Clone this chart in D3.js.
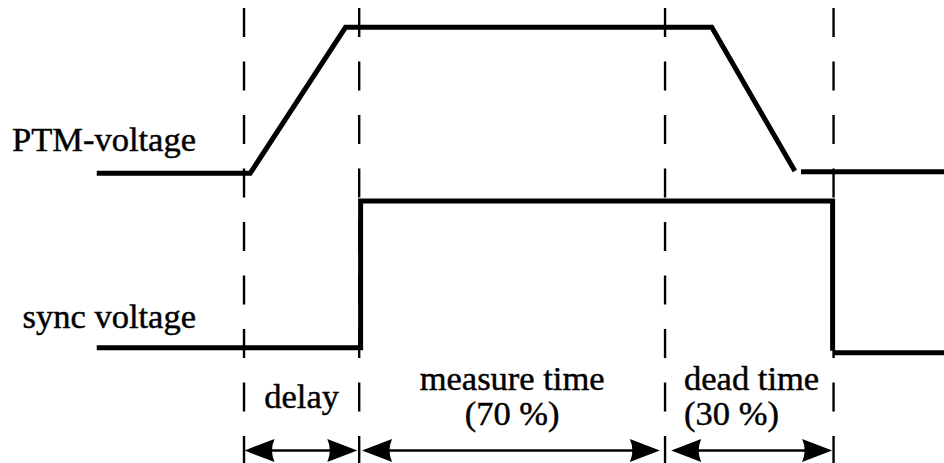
<!DOCTYPE html>
<html>
<head>
<meta charset="utf-8">
<script src="https://cdn.jsdelivr.net/npm/d3@7"></script>
<style>
  body { margin: 0; background: #fff; }
  svg text { font-family: "Liberation Serif", "Times New Roman", serif; fill: #000; stroke: #000; stroke-width: 0.45px; }
</style>
</head>
<body>
<svg id="diagram"></svg>
<script>
const ctx = {
  width: 944,
  height: 463,
  fontSize: 34.5
};

// time axis in "units" (0..100 across the picture)
const markerTimes = [25.85, 38.05, 70.45, 88.3];

// PTM-voltage: [time, level]
const ptmTrace = [[10.25, 0], [26.5, 0], [36.6, 1], [75.4, 1], [84.2, 0.015]];
const ptmTail = [[84.85, 0.01], [100, 0.01]];

// sync voltage: [time, level]
const syncTrace = [[10.25, 0], [38.2, 0], [38.2, 1], [88.2, 1], [88.2, -0.02]];
const syncTail = [[88.3, -0.035], [100, -0.035]];

// interval arrows below the traces
const intervals = [
  { from: 25.9, to: 37.85 },
  { from: 38.35, to: 69.9 },
  { from: 71.1, to: 88.15 }
];

const signalLabels = [
  { text: "PTM-voltage", row: "ptm" },
  { text: "sync voltage", row: "sync" }
];

const intervalLabels = [
  { lines: ["delay"], a: 0, b: 1, anchor: "middle" },
  { lines: ["measure time", "(70 %)"], a: 1, b: 2, anchor: "middle" },
  { lines: ["dead time", "(30 %)"], a: 2, b: 3, anchor: "start" }
];

function drawDiagram() {
  const svg = d3.select("#diagram")
    .attr("width", ctx.width)
    .attr("height", ctx.height);

  const x = d3.scaleLinear().domain([0, 100]).range([0, ctx.width]);
  const yPtm = d3.scaleLinear().domain([0, 1]).range([173.3, 27.3]);
  const ySync = d3.scaleLinear().domain([0, 1]).range([347.7, 201]);

  // dashed markers
  svg.selectAll("line.marker")
    .data(markerTimes)
    .enter()
    .append("line")
      .attr("class", "marker")
      .attr("x1", d => x(d))
      .attr("x2", d => x(d))
      .attr("y1", 8)
      .attr("y2", ctx.height)
      .attr("stroke", "#000")
      .attr("stroke-width", 2.4)
      .attr("stroke-dasharray", "29,24.5");

  const ptmLine = d3.line().x(d => x(d[0])).y(d => yPtm(d[1]));
  const syncLine = d3.line().x(d => x(d[0])).y(d => ySync(d[1]));

  [[ptmTrace, ptmLine], [ptmTail, ptmLine], [syncTrace, syncLine], [syncTail, syncLine]]
    .forEach(([pts, gen]) => {
      svg.append("path")
        .attr("d", gen(pts))
        .attr("fill", "none")
        .attr("stroke", "#000")
        .attr("stroke-width", 5)
        .attr("stroke-linejoin", "miter");
    });

  // signal names, right aligned
  svg.selectAll("text.signal")
    .data(signalLabels)
    .enter()
    .append("text")
      .attr("class", "signal")
      .attr("x", 196)
      .attr("y", d => d.row === "ptm" ? yPtm(0) - 22.5 : ySync(0) - 19.5)
      .attr("text-anchor", "end")
      .style("font-size", ctx.fontSize + "px")
      .text(d => d.text);

  // interval labels
  intervalLabels.forEach((lab, i) => {
    const xa = x(markerTimes[lab.a]), xb = x(markerTimes[lab.b]);
    const tx = lab.anchor === "middle" ? (xa + xb) / 2 : xa + 19;
    const y0 = lab.lines.length === 1 ? 408 : 389.5;
    lab.lines.forEach((ln, j) => {
      svg.append("text")
        .attr("x", tx)
        .attr("y", y0 + j * 35)
        .attr("text-anchor", lab.anchor)
        .style("font-size", ctx.fontSize + "px")
        .text(ln);
    });
  });

  // double-headed arrows
  const arrowY = 450.5;
  const headL = 30, headH = 11.5;
  const head = (tip, dir) => {
    const bx = tip + dir * headL;
    return `M${tip},${arrowY} L${bx},${arrowY - headH} Q${bx - dir * 5},${arrowY} ${bx},${arrowY + headH} Z`;
  };

  intervals.forEach(iv => {
    const x1 = x(iv.from), x2 = x(iv.to);
    svg.append("line")
      .attr("x1", x1 + headL - 4)
      .attr("x2", x2 - headL + 4)
      .attr("y1", arrowY)
      .attr("y2", arrowY)
      .attr("stroke", "#000")
      .attr("stroke-width", 2.6);
    svg.append("path").attr("d", head(x1, 1)).attr("fill", "#000");
    svg.append("path").attr("d", head(x2, -1)).attr("fill", "#000");
  });
}

drawDiagram();
</script>
</body>
</html>
